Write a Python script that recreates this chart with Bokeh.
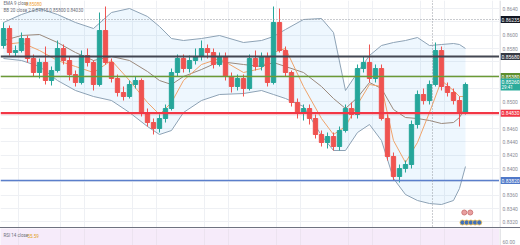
from bokeh.plotting import figure
from bokeh.models import (Range1d, FixedTicker, Label, Span, ColumnDataSource, Div)
from bokeh.layouts import column, row
from bokeh.embed import file_html
from bokeh.resources import INLINE
from bokeh.core.properties import value

# ---------------- data ----------------
opens = [0.85845, 0.86100, 0.85740, 0.85770, 0.85950, 0.85650, 0.85440, 0.85590, 0.85320, 0.85470,
         0.85800, 0.85620, 0.85410, 0.85290, 0.85695, 0.85590, 0.85260, 0.86070, 0.85590, 0.85350,
         0.85140, 0.85080, 0.85260, 0.85320, 0.84840, 0.84690, 0.84600, 0.84750, 0.84900, 0.85440,
         0.85650, 0.85500, 0.85620, 0.85680, 0.85800, 0.85740, 0.85560, 0.85680, 0.85380, 0.85230,
         0.85350, 0.85200, 0.85650, 0.85530, 0.85680, 0.85290, 0.86190, 0.85770, 0.85440, 0.84990,
         0.84840, 0.84900, 0.84750, 0.84510, 0.84390, 0.84480, 0.84330, 0.84570, 0.84900, 0.84810,
         0.85500, 0.85590, 0.85350, 0.85500, 0.84750, 0.84180, 0.83880, 0.84000, 0.84060, 0.84660,
         0.85110, 0.85020, 0.85260, 0.85770, 0.85230, 0.85140, 0.85020, 0.84840]
highs = [0.86190, 0.86145, 0.85845, 0.86040, 0.85995, 0.85710, 0.85650, 0.85830, 0.85530, 0.85920,
         0.85860, 0.85680, 0.85470, 0.85770, 0.85800, 0.85620, 0.86340, 0.86430, 0.85650, 0.85410,
         0.85230, 0.85320, 0.85380, 0.85350, 0.84900, 0.84750, 0.84810, 0.84960, 0.85500, 0.85710,
         0.85710, 0.85695, 0.85800, 0.85920, 0.85860, 0.85800, 0.85740, 0.85740, 0.85440, 0.85410,
         0.85410, 0.85710, 0.85770, 0.85740, 0.85740, 0.86430, 0.86400, 0.85830, 0.85470, 0.85050,
         0.84960, 0.84960, 0.84810, 0.84570, 0.84540, 0.84540, 0.84630, 0.84960, 0.84990, 0.85560,
         0.85680, 0.85860, 0.85560, 0.85560, 0.84810, 0.84240, 0.84060, 0.84120, 0.84720, 0.85170,
         0.85200, 0.85320, 0.85890, 0.85830, 0.85290, 0.85200, 0.85080, 0.85290]
lows = [0.85800, 0.85695, 0.85680, 0.85740, 0.85590, 0.85380, 0.85350, 0.85260, 0.85245, 0.85440,
        0.85560, 0.85320, 0.85230, 0.85260, 0.85530, 0.85170, 0.85230, 0.85560, 0.85290, 0.85080,
        0.85020, 0.85050, 0.85200, 0.84780, 0.84630, 0.84510, 0.84540, 0.84690, 0.84870, 0.85380,
        0.85440, 0.85440, 0.85560, 0.85620, 0.85650, 0.85500, 0.85530, 0.85320, 0.85140, 0.85170,
        0.85080, 0.85170, 0.85470, 0.85470, 0.85230, 0.85260, 0.85740, 0.85380, 0.84930, 0.84750,
        0.84720, 0.84660, 0.84450, 0.84330, 0.84300, 0.84270, 0.84270, 0.84540, 0.84750, 0.84750,
        0.85440, 0.85290, 0.85290, 0.84720, 0.84120, 0.83820, 0.83790, 0.83940, 0.84000, 0.84600,
        0.84960, 0.84960, 0.85230, 0.85170, 0.85080, 0.84960, 0.84630, 0.84810]
closes = [0.86100, 0.85740, 0.85770, 0.85950, 0.85650, 0.85440, 0.85590, 0.85320, 0.85470, 0.85800,
          0.85620, 0.85410, 0.85290, 0.85695, 0.85590, 0.85260, 0.86070, 0.85590, 0.85350, 0.85140,
          0.85080, 0.85260, 0.85320, 0.84840, 0.84690, 0.84600, 0.84750, 0.84900, 0.85440, 0.85650,
          0.85500, 0.85620, 0.85680, 0.85800, 0.85740, 0.85560, 0.85680, 0.85380, 0.85230, 0.85350,
          0.85200, 0.85650, 0.85530, 0.85680, 0.85290, 0.86190, 0.85770, 0.85440, 0.84990, 0.84840,
          0.84900, 0.84750, 0.84510, 0.84390, 0.84480, 0.84330, 0.84570, 0.84900, 0.84810, 0.85500,
          0.85590, 0.85350, 0.85500, 0.84750, 0.84180, 0.83880, 0.84000, 0.84060, 0.84660, 0.85110,
          0.85020, 0.85260, 0.85770, 0.85230, 0.85140, 0.85020, 0.84840, 0.85260]

band_idx = [0, 3, 6, 9, 12, 15, 18, 21, 24, 26, 28, 30, 33, 36, 40, 43, 45, 47, 50, 53, 55,
            57, 59, 61, 63, 65, 67, 69, 71, 73, 75, 76, 77]
bb_upper = [0.86190, 0.86310, 0.86400, 0.86310, 0.86190, 0.86100, 0.86340, 0.86400, 0.86280,
            0.86130, 0.85950, 0.85920, 0.85950, 0.85995, 0.85890, 0.85920, 0.85980, 0.86085,
            0.86235, 0.86250, 0.86040, 0.85170, 0.85440, 0.85695, 0.85845, 0.85890, 0.85920,
            0.85965, 0.85845, 0.85860, 0.85875, 0.85860, 0.85800]
bb_lower = [0.85650, 0.85620, 0.85530, 0.85320, 0.85170, 0.85080, 0.85020, 0.84840, 0.84630,
            0.84510, 0.84570, 0.84840, 0.85020, 0.85110, 0.85125, 0.85170, 0.85110, 0.85050,
            0.84930, 0.84495, 0.84270, 0.84270, 0.84540, 0.84660, 0.84420, 0.83850, 0.83610,
            0.83520, 0.83475, 0.83460, 0.83520, 0.83700, 0.84030]
bb_basis = [0.85920, 0.85995, 0.86010, 0.85890, 0.85740, 0.85620, 0.85680, 0.85620, 0.85455,
            0.85320, 0.85260, 0.85380, 0.85485, 0.85605, 0.85560, 0.85530, 0.85590, 0.85530,
            0.85440, 0.85230, 0.85050, 0.84900, 0.85065, 0.85290, 0.85200, 0.84885, 0.84765,
            0.84750, 0.84720, 0.84675, 0.84690, 0.84765, 0.84915]
ema9 = [0.85860, 0.85890, 0.85770, 0.85620, 0.85530, 0.85440, 0.85620, 0.85320, 0.84990,
        0.84810, 0.84990, 0.85320, 0.85560, 0.85650, 0.85440, 0.85500, 0.85740, 0.85800,
        0.85230, 0.84750, 0.84510, 0.84630, 0.84960, 0.85260, 0.85230, 0.84420, 0.84090,
        0.84390, 0.84840, 0.85320, 0.85170, 0.85080, 0.85080]

level_dark = 0.85680
level_green = 0.85380
level_red = 0.84830
level_blue = 0.83820
cross_price = 0.86235
cross_index = 71.5
countdown = "29:41"

price_ticks_all = [0.832, 0.834, 0.836, 0.838, 0.840, 0.842, 0.844, 0.846, 0.848, 0.850,
                   0.852, 0.854, 0.856, 0.858, 0.860, 0.862, 0.864]
price_ticks_shown = [0.832, 0.834, 0.836, 0.840, 0.842, 0.844, 0.846, 0.850,
                     0.858, 0.860, 0.864]
price_tick_labels = ["0.8320", "0.8340", "0.8360", "0.8400", "0.8420", "0.8440", "0.8460",
                     "0.8500", "0.8580", "0.8600", "0.8640"]
time_grid = [2.5, 9.5, 13.5, 21.5, 25.5, 33.5, 37.5, 45.5, 49.5, 57.5, 61.5, 69.5, 73.5, 81.5]

event_pink_x = [76.8, 77.8]
event_pink_y = [0.83340, 0.83340]
event_blue_x = [76.5, 77.2, 77.9, 78.6, 79.3]
event_blue_y = [0.83190, 0.83190, 0.83190, 0.83190, 0.83190]

rsi_tick = [60]
rsi_tick_label = ["60.00"]
rsi_value = "55.59"
legend_ema = "0.85080"
legend_bb = "0.84915  0.85800  0.84030"

# ---------------- styling ----------------
UP = "#26a69a"
DOWN = "#ef5350"
FONT = "Roboto"
AXIS_W = 21
MAIN_H = 227
RSI_H = 17
xr = Range1d(-0.5, 82.67)
yr = Range1d(0.83115, 0.8652)


def base_fig(w, h, x_range, y_range):
    f = figure(width=w, height=h, output_backend="svg", toolbar_location=None,
               x_range=x_range, y_range=y_range,
               x_axis_location=None, y_axis_location=None,
               min_border_left=0, min_border_top=0, min_border_bottom=0, min_border_right=0)
    f.outline_line_color = None
    return f


p = base_fig(520 - AXIS_W, MAIN_H, xr, yr)
p.ygrid.ticker = FixedTicker(ticks=price_ticks_all)
p.ygrid.grid_line_color = "#eef0f4"
p.xgrid.ticker = FixedTicker(ticks=time_grid)
p.xgrid.grid_line_color = "#eef0f4"

# Bollinger band fill + lines
p.varea(x=band_idx, y1=bb_lower, y2=bb_upper, fill_color="#2196f3", fill_alpha=0.08)
p.line(band_idx, bb_upper, line_color="#8ea3b6", line_width=1)
p.line(band_idx, bb_lower, line_color="#8ea3b6", line_width=1)
p.line(band_idx, bb_basis, line_color="#9b8a7d", line_width=1)
p.line(band_idx, ema9, line_color="#f0a46c", line_width=1)

# horizontal levels
LEVELS = [(level_dark, "#434651", 2.2), (level_green, "#6b9a36", 1.6),
          (level_red, "#f23645", 2.2), (level_blue, "#5b7fcb", 1.6)]
for lvl, col, w in LEVELS:
    p.add_layout(Span(location=lvl, dimension="width", line_color=col, line_width=w))

# crosshair
p.add_layout(Span(location=cross_price, dimension="width", line_color="#9598a1",
                  line_width=1, line_dash="1 2"))
p.add_layout(Span(location=cross_index, dimension="height", line_color="#9598a1",
                  line_width=1, line_dash="1 2"))

# candles
idx = list(range(len(closes)))
colors = [UP if c >= o else DOWN for o, c in zip(opens, closes)]
src = ColumnDataSource(dict(x=idx, h=highs, l=lows,
                            top=[max(o, c) for o, c in zip(opens, closes)],
                            bot=[min(o, c) for o, c in zip(opens, closes)],
                            color=colors))
p.segment("x", "h", "x", "l", color="color", source=src, line_width=1)
p.vbar("x", 0.72, "top", "bot", fill_color="color", line_color="color", source=src)

# events
p.scatter(event_pink_x, event_pink_y, size=5, fill_color="#e8a0a0", line_color="#d07b7b")
p.scatter(event_blue_x, event_blue_y, size=5, fill_color="#3f6fb8", line_color="#f2c14e",
          line_width=0.8)

# legend texts
def legend_label(fig, x, y, text, color):
    fig.add_layout(Label(x=x, y=y, x_units="screen", y_units="screen", text=text,
                         text_font_size="4.5px", text_font=FONT, text_color=color,
                         text_baseline="middle"))

legend_label(p, 3, MAIN_H - 3, "EMA 9 close", "#6a6d78")
legend_label(p, 25, MAIN_H - 3, legend_ema, "#f0a030")
legend_label(p, 3, MAIN_H - 10, "BB 20 close 2  " + legend_bb, "#6a6d78")

# ---------------- price scale (right) ----------------
s = base_fig(AXIS_W, MAIN_H, Range1d(0, AXIS_W), yr)
s.grid.visible = False
s.add_layout(Span(location=0.5, dimension="height", line_color="#c9cbd1", line_width=1))
s.text(x=[3] * len(price_ticks_shown), y=price_ticks_shown, text=price_tick_labels,
       text_font=value(FONT), text_font_size="5px", text_color="#8a8d96",
       text_baseline="middle", text_align="left")

tag_prices = [cross_price, level_dark, level_green, level_red, level_blue]
tag_colors = ["#131722", "#363a45", "#5d8e2e", "#f23645", "#4f78c8"]
tag_texts = ["%.5f" % v for v in tag_prices]
s.rect(x=[11] * len(tag_prices), y=tag_prices, width=20, height=7, height_units="screen",
       fill_color=tag_colors, line_color=None)
s.text(x=[2] * len(tag_prices), y=tag_prices, text=tag_texts, text_font=value(FONT),
       text_font_size="5px", text_color="white", text_baseline="middle", text_align="left")
# current price tag (two lines)
s.rect(x=[11], y=[closes[-1]], width=20, height=12, height_units="screen",
       fill_color="#2bab9b", line_color=None)
s.text(x=[2], y=[closes[-1]], text=["%.5f" % closes[-1]], text_font=value(FONT),
       text_font_size="5px", text_color="white", text_baseline="middle", text_align="left",
       y_offset=-2.5)
s.text(x=[2], y=[closes[-1]], text=[countdown], text_font=value(FONT),
       text_font_size="4.5px", text_color="white", text_baseline="middle", text_align="left",
       y_offset=3)

# ---------------- RSI pane ----------------
ry = Range1d(58, 68)
r = base_fig(520 - AXIS_W, RSI_H, xr, ry)
r.background_fill_color = "#f6ebfa"
r.ygrid.grid_line_color = None
r.xgrid.ticker = FixedTicker(ticks=time_grid)
r.xgrid.grid_line_color = "#ece3f0"
legend_label(r, 3, 10, "RSI 14 close", "#6a6d78")
legend_label(r, 27, 10, rsi_value, "#e0a020")

rs = base_fig(AXIS_W, RSI_H, Range1d(0, AXIS_W), ry)
rs.grid.visible = False
rs.add_layout(Span(location=0.5, dimension="height", line_color="#c9cbd1", line_width=1))
rs.text(x=[3], y=rsi_tick, text=rsi_tick_label, text_font=value(FONT), text_font_size="5px",
        text_color="#8a8d96", text_baseline="middle", text_align="left")

sep = Div(width=520, height=1, margin=0, styles={"background-color": "#6f7280"})

layout = column(row(p, s, spacing=0), sep, row(r, rs, spacing=0), spacing=0)
open("out.html", "w").write(file_html(layout, INLINE))
